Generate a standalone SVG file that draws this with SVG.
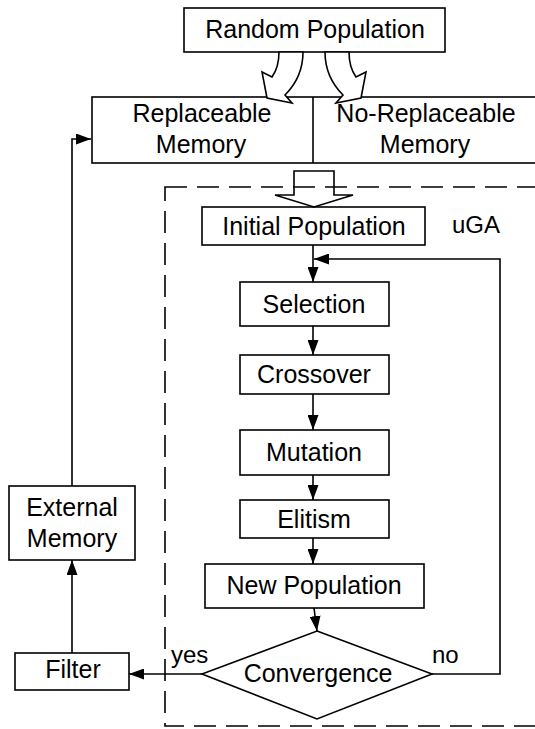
<svg xmlns="http://www.w3.org/2000/svg" width="535" height="729" viewBox="0 0 535 729">
  <style>
    .box { fill: #fff; stroke: #000; stroke-width: 1.6; }
    .line { fill: none; stroke: #000; stroke-width: 1.6; }
    .blk { fill: #fff; stroke: #000; stroke-width: 1.6; stroke-linejoin: miter; }
    .dash { fill: none; stroke: #000; stroke-width: 1.6; stroke-dasharray: 22 10; }
    text { font-family: "Liberation Sans", Arial, sans-serif; font-size: 25px; fill: #000; }
    .c { text-anchor: middle; }
    .lbl { font-size: 24px; }
  </style>
  <defs>
    <marker id="arrow" markerUnits="userSpaceOnUse" markerWidth="15" markerHeight="11" refX="15" refY="5.5" orient="auto">
      <path d="M0,0 L15,5.5 L0,11 Z" fill="#000"/>
    </marker>
  </defs>

  <rect width="535" height="729" fill="#fff"/>

  <!-- uGA boundary -->
  <rect id="uga-frame" class="dash" x="165" y="187" width="380" height="539"/>
  <text class="lbl" x="452" y="233">uGA</text>

  <!-- Nodes -->
  <g id="random-population">
    <rect class="box" x="184" y="8" width="261" height="44"/>
    <text class="c" x="315" y="38">Random Population</text>
  </g>

  <g id="memory">
    <rect class="box" x="92" y="97" width="446" height="66"/>
    <line class="line" x1="313" y1="97" x2="313" y2="163"/>
    <text class="c" x="202" y="122">Replaceable</text>
    <text class="c" x="201" y="153">Memory</text>
    <text class="c" x="426" y="122">No-Replaceable</text>
    <text class="c" x="425" y="153">Memory</text>
  </g>

  <g id="initial-population">
    <rect class="box" x="202" y="207" width="223" height="38"/>
    <text class="c" x="314" y="235">Initial Population</text>
  </g>

  <g id="selection">
    <rect class="box" x="240" y="282" width="149" height="44"/>
    <text class="c" x="314" y="313">Selection</text>
  </g>

  <g id="crossover">
    <rect class="box" x="240" y="355" width="149" height="39"/>
    <text class="c" x="314" y="383">Crossover</text>
  </g>

  <g id="mutation">
    <rect class="box" x="240" y="430" width="149" height="45"/>
    <text class="c" x="314" y="461">Mutation</text>
  </g>

  <g id="elitism">
    <rect class="box" x="240" y="500" width="149" height="38"/>
    <text class="c" x="314" y="528">Elitism</text>
  </g>

  <g id="new-population">
    <rect class="box" x="205" y="564" width="219" height="44"/>
    <text class="c" x="314" y="594">New Population</text>
  </g>

  <g id="convergence">
    <polygon class="box" points="317,631 432,674 317,719 202,674"/>
    <text class="c" x="318" y="682">Convergence</text>
  </g>

  <g id="filter">
    <rect class="box" x="15" y="653" width="114" height="37"/>
    <text class="c" x="73" y="678">Filter</text>
  </g>

  <g id="external-memory">
    <rect class="box" x="9" y="486" width="126" height="74"/>
    <text class="c" x="72" y="516">External</text>
    <text class="c" x="72" y="547">Memory</text>
  </g>

  <!-- Connectors -->
  <g id="connectors">
    <!-- curved block arrows into the two memories -->
    <path class="blk" d="M279,52 C279,62 277,70 272,77 L262,72 L267,98 L292,103 L285,95 C298,82 303,68 303,52 Z"/>
    <path class="blk" transform="matrix(-1,0,0,1,628,0)" d="M279,52 C279,62 277,70 272,77 L262,72 L267,98 L292,103 L285,95 C298,82 303,68 303,52 Z"/>
    <!-- block arrow into the uGA -->
    <polygon class="line" points="294,171 334,171 334,195 353,195 314,207 275,195 294,195"/>

    <line class="line" x1="313" y1="245" x2="313" y2="282" marker-end="url(#arrow)"/>
    <line class="line" x1="313" y1="326" x2="313" y2="355" marker-end="url(#arrow)"/>
    <line class="line" x1="313" y1="394" x2="313" y2="430" marker-end="url(#arrow)"/>
    <line class="line" x1="313" y1="475" x2="313" y2="500" marker-end="url(#arrow)"/>
    <line class="line" x1="313" y1="538" x2="313" y2="564" marker-end="url(#arrow)"/>
    <line class="line" x1="314" y1="608" x2="317" y2="631" marker-end="url(#arrow)"/>

    <!-- no: back to selection -->
    <polyline class="line" points="432,674 500,674 500,259 314,259" marker-end="url(#arrow)"/>
    <text class="lbl" x="432" y="663">no</text>

    <!-- yes: to filter -->
    <line class="line" x1="202" y1="674" x2="129" y2="674" marker-end="url(#arrow)"/>
    <text class="lbl" x="171" y="663">yes</text>

    <line class="line" x1="72" y1="653" x2="72" y2="560" marker-end="url(#arrow)"/>
    <polyline class="line" points="72,486 72,139 91,139" marker-end="url(#arrow)"/>
  </g>
</svg>
